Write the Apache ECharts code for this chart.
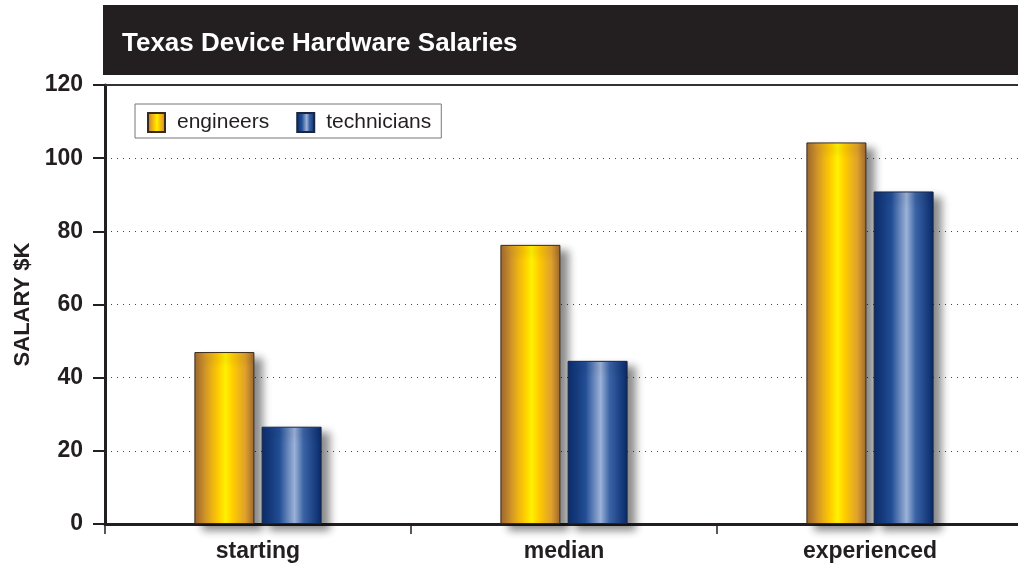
<!DOCTYPE html>
<html>
<head>
<meta charset="utf-8">
<script src="https://cdn.jsdelivr.net/npm/echarts@6/dist/echarts.min.js"></script>
<style>
  html, body { margin: 0; padding: 0; background: #fff; overflow: hidden; }
  #chart { width: 1023px; height: 565px; }
</style>
</head>
<body>
<div id="chart"></div>
<script>
// data
const categories = ["starting", "median", "experienced"];
const engineers = [47, 76.3, 104.3];
const technicians = [26.6, 44.6, 90.9];
const yTicks = { min: 0, max: 120, interval: 20 };

const ink = "#231f20";
const font = "Liberation Sans, Arial, sans-serif";

function hGrad(stops) {
  return new echarts.graphic.LinearGradient(0, 0, 1, 0,
    stops.map(s => ({ offset: s[0], color: s[1] })));
}
const goldGrad = hGrad([
  [0, "#9a6630"], [0.18, "#d99a2a"], [0.4, "#ffcc00"],
  [0.52, "#fff200"], [0.64, "#ffcc00"], [0.85, "#dfa02c"], [1, "#9a6630"]
]);
const blueGrad = hGrad([
  [0, "#0a2c6c"], [0.3, "#234f97"], [0.55, "#9cb2d8"],
  [0.7, "#3a63a6"], [1, "#08296a"]
]);

const shadow = {
  shadowColor: "rgba(0,0,0,0.45)",
  shadowBlur: 8,
  shadowOffsetX: 8,
  shadowOffsetY: 6
};

// plot runs off the right edge of the window, like the original
const chart = echarts.init(document.getElementById("chart"));
chart.setOption({
  backgroundColor: "#fff",
  animation: false,
  graphic: [{
    type: "rect",
    left: 103, top: 5,
    shape: { width: 920, height: 70 },
    style: { fill: ink },
    z: 0
  }],
  title: {
    text: "Texas Device Hardware Salaries",
    left: 122, top: 31, padding: 0,
    textStyle: { color: "#fff", fontSize: 26, fontWeight: "bold", fontFamily: font }
  },
  legend: {
    left: 135, top: 104,
    padding: [8, 10, 5, 12],
    borderColor: "#777", borderWidth: 1,
    backgroundColor: "#fff",
    icon: "rect",
    itemWidth: 17, itemHeight: 19, itemGap: 27,
    textStyle: { color: ink, fontSize: 21, fontFamily: font, padding: [0, 0, 0, 7] },
    data: ["engineers", "technicians"]
  },
  grid: { left: 105, top: 85, right: 0, bottom: 41 },
  xAxis: [{
    type: "category",
    data: categories,
    axisLine: { lineStyle: { color: ink, width: 3 } },
    axisTick: { show: true, alignWithLabel: false, length: 10, lineStyle: { color: ink, width: 1.5 } },
    axisLabel: { color: ink, fontSize: 23, fontWeight: "bold", fontFamily: font, margin: 16 }
  }, {
    type: "category",
    position: "top",
    data: categories,
    axisLine: { lineStyle: { color: "#333", width: 2 } },
    axisTick: { show: false },
    axisLabel: { show: false }
  }],
  yAxis: {
    type: "value",
    min: yTicks.min, max: yTicks.max, interval: yTicks.interval,
    name: "SALARY $K",
    nameLocation: "middle",
    nameGap: 71,
    nameTextStyle: { color: ink, fontSize: 22, fontWeight: "bold", fontFamily: font },
    axisLine: { show: true, lineStyle: { color: ink, width: 3 } },
    axisTick: { show: true, length: 12, lineStyle: { color: ink, width: 2 } },
    axisLabel: { color: ink, fontSize: 23, fontWeight: "bold", fontFamily: font, margin: 22 },
    splitLine: { lineStyle: { color: "#444", type: [1, 5], width: 1 } }
  },
  series: [{
    name: "engineers",
    type: "bar",
    data: engineers,
    barWidth: 60,
    barGap: "12%",
    itemStyle: Object.assign({ color: goldGrad, borderColor: "#3a2a1a", borderWidth: 1 }, shadow)
  }, {
    name: "technicians",
    type: "bar",
    data: technicians,
    barWidth: 60,
    itemStyle: Object.assign({ color: blueGrad, borderColor: "#1a2540", borderWidth: 1 }, shadow)
  }]
});
</script>
</body>
</html>
